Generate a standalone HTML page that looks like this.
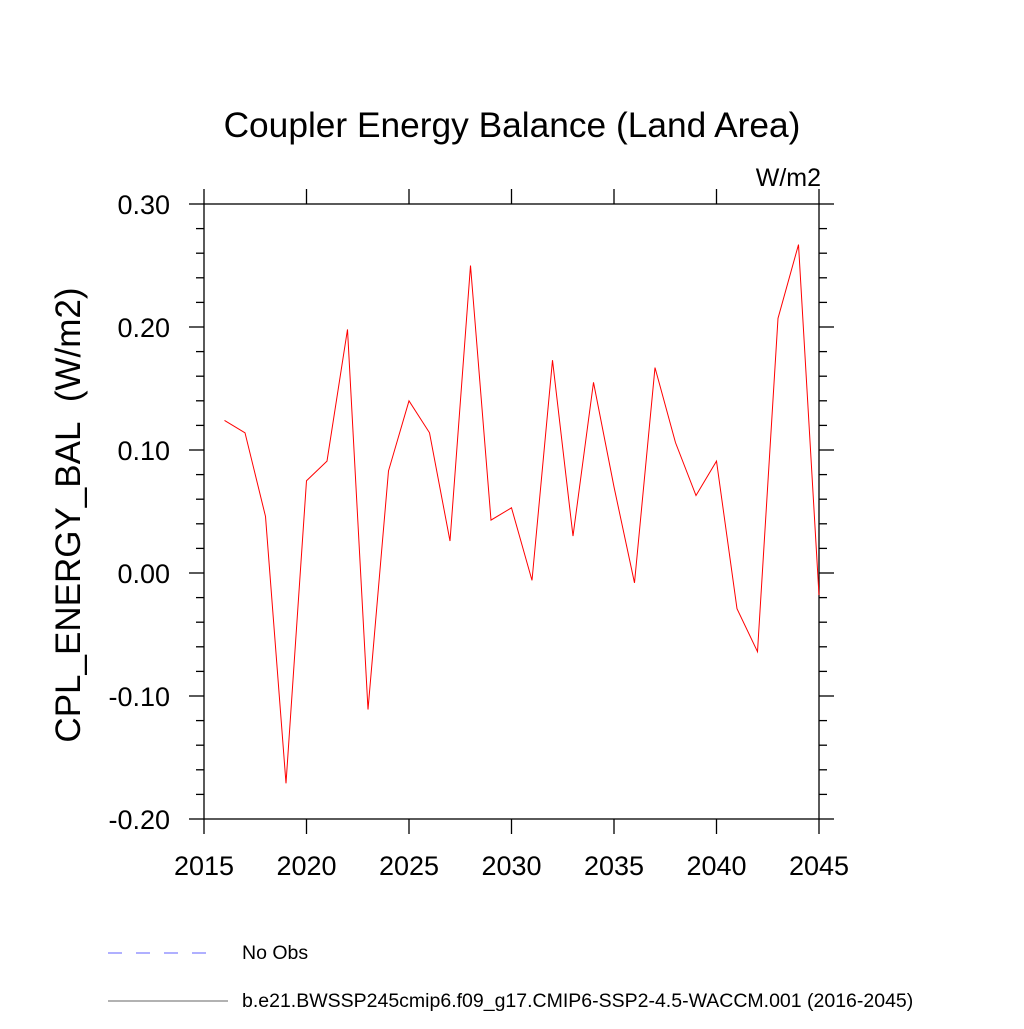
<!DOCTYPE html>
<html><head><meta charset="utf-8"><style>body{margin:0;background:#fff}svg text{font-family:"Liberation Sans",sans-serif}</style></head>
<body>
<svg id="chart" width="1024" height="1024" xmlns="http://www.w3.org/2000/svg">
<text x="512" y="137" font-size="35.3" text-anchor="middle">Coupler Energy Balance (Land Area)</text>
<text x="821" y="186" font-size="25" text-anchor="end">W/m2</text>
<text transform="translate(80,515) rotate(-90)" font-size="35" text-anchor="middle" style="white-space:pre">CPL_ENERGY_BAL&#160; (W/m2)</text>
<g id="axes"></g>
<g id="series"></g>
<g>
<line x1="108" y1="953" x2="218" y2="953" stroke="#6060ff" stroke-width="1" stroke-dasharray="14,14"/>
<text x="242" y="959" font-size="19.5">No Obs</text>
<line x1="108" y1="1001" x2="228" y2="1001" stroke="#666" stroke-width="1"/>
<text x="242" y="1007" font-size="19.5">b.e21.BWSSP245cmip6.f09_g17.CMIP6-SSP2-4.5-WACCM.001 (2016-2045)</text>
</g>
</svg>
<script>
const years=[2016,2017,2018,2019,2020,2021,2022,2023,2024,2025,2026,2027,2028,2029,2030,2031,2032,2033,2034,2035,2036,2037,2038,2039,2040,2041,2042,2043,2044,2045];
const values=[0.124,0.114,0.046,-0.171,0.075,0.091,0.198,-0.111,0.083,0.140,0.114,0.026,0.250,0.043,0.053,-0.006,0.173,0.030,0.155,0.070,-0.008,0.167,0.106,0.063,0.091,-0.029,-0.064,0.207,0.267,-0.018];
const xTicks=[2015,2020,2025,2030,2035,2040,2045];
const yTicks=[-0.2,-0.1,0,0.1,0.2,0.3];
const yTickLabels=["-0.20","-0.10","0.00","0.10","0.20","0.30"];
const L=204,R=819,T=204,B=819;
const xs=v=>L+(v-2015)/30*(R-L);
const ys=v=>B-(v+0.2)/0.5*(B-T);
const NS='http://www.w3.org/2000/svg';
const ax=document.getElementById('axes');
function mk(tag,a,p){const e=document.createElementNS(NS,tag);for(const k in a)e.setAttribute(k,a[k]);p.appendChild(e);return e;}
const fr=mk('rect',{x:L,y:T,width:R-L,height:B-T,fill:'none',stroke:'#000','stroke-width':1.3},ax);


xTicks.forEach(t=>{
 const x=xs(t);
 mk('line',{x1:x,y1:B,x2:x,y2:B+15,stroke:'#000','stroke-width':1.3},ax);
 mk('line',{x1:x,y1:T,x2:x,y2:T-15,stroke:'#000','stroke-width':1.3},ax);
 const tx=mk('text',{x:x,y:B+56,'font-size':27,'text-anchor':'middle'},ax);
 tx.textContent=t;
 
 
});
for(let i=0;i<=25;i++){
 const v=-0.2+i*0.02;const y=ys(v);const major=i%5===0;const len=major?15:8;
 mk('line',{x1:L-len,y1:y,x2:L,y2:y,stroke:'#000','stroke-width':1.3},ax);
 mk('line',{x1:R,y1:y,x2:R+len,y2:y,stroke:'#000','stroke-width':1.3},ax);
}
yTicks.forEach((t,i)=>{
 const tx=mk('text',{x:L-34,y:ys(t)+10,'font-size':27,'text-anchor':'end'},ax);
 tx.textContent=yTickLabels[i];
 
 
});
const pl=mk('polyline',{points:years.map((y,i)=>xs(y)+','+ys(values[i])).join(' '),fill:'none',stroke:'#ff0000','stroke-width':1},document.getElementById('series'));


</script>
</body></html>
